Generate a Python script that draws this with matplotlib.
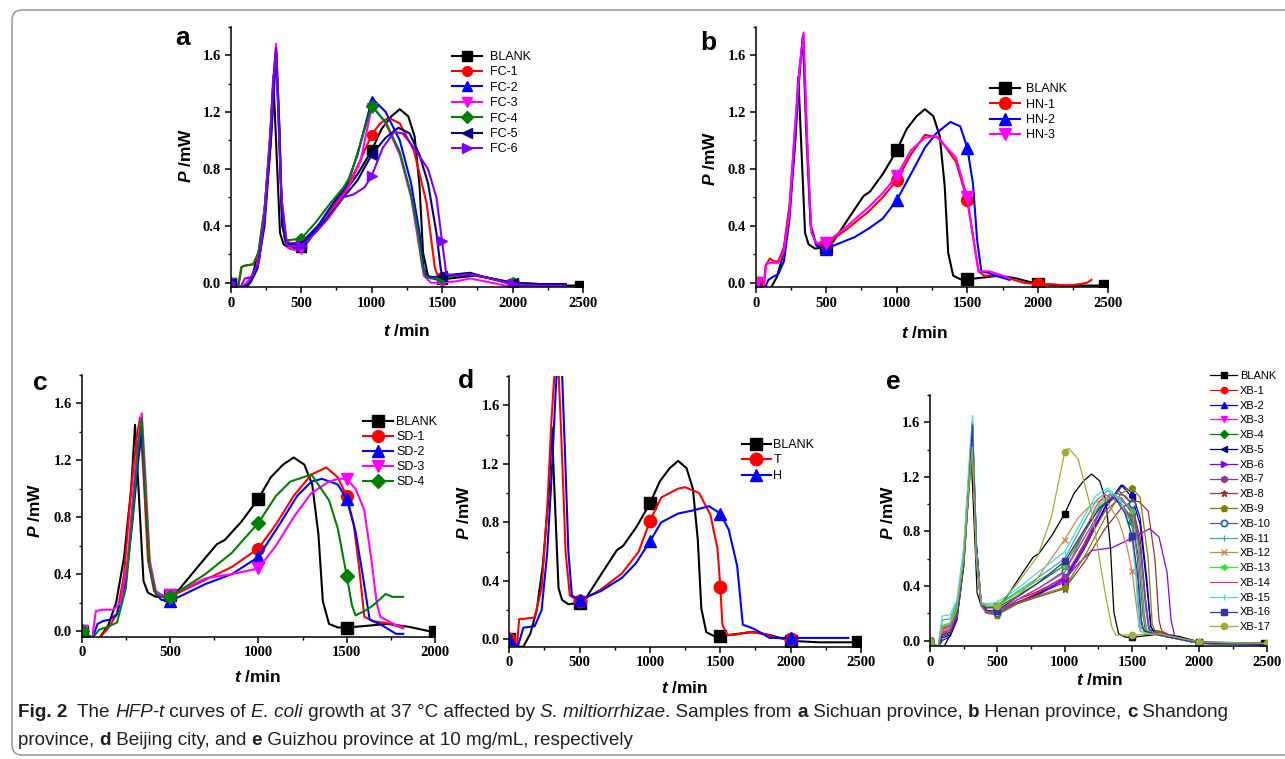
import matplotlib
matplotlib.use('Agg')
import matplotlib.pyplot as plt
from matplotlib.patches import FancyBboxPatch
from matplotlib.ticker import MultipleLocator, FormatStrFormatter
from matplotlib.transforms import IdentityTransform

W, H = 1285, 759
plt.rcParams['font.family'] = 'Liberation Serif'
plt.rcParams['font.weight'] = 'bold'
plt.rcParams['mathtext.fontset'] = 'custom'
plt.rcParams['mathtext.it'] = 'Liberation Sans:italic:bold'
plt.rcParams['mathtext.rm'] = 'Liberation Sans:bold'
plt.rcParams['mathtext.bf'] = 'Liberation Sans:bold'
SANS = 'Liberation Sans'

# control run, shown in every panel
blank_t = [0, 60, 100, 150, 195, 240, 280, 302, 326, 350, 375, 420, 500, 550, 670, 765, 810, 905, 1000, 1070,
           1140, 1200, 1260, 1305, 1340, 1365, 1400, 1450, 1500, 1600, 1730, 1850, 2000, 2200, 2480]
blank_p = [0.0, -0.05, -0.05, 0.04, 0.2, 0.52, 1.0, 1.45, 0.9, 0.35, 0.27, 0.24, 0.25, 0.29, 0.47, 0.61, 0.64, 0.77, 0.93, 1.08,
           1.17, 1.22, 1.17, 1.03, 0.68, 0.21, 0.05, 0.025, 0.024, 0.035, 0.05, 0.03, -0.01, -0.02, -0.02]

# a: Sichuan
fc1_t = [0, 50, 78, 100, 160, 200, 240, 280, 305, 320, 340, 360, 385, 420, 500, 600, 700, 820, 920, 1000, 1060, 1120,
         1200, 1300, 1390, 1448, 1472, 1500, 1600, 1700, 1800, 2000, 2200, 2377]
fc1_p = [0.0, -0.05, 0.11, 0.12, 0.13, 0.22, 0.5, 1.05, 1.45, 1.64, 1.2, 0.55, 0.3, 0.28, 0.28, 0.38, 0.5, 0.66, 0.86, 1.04, 1.12, 1.16,
         1.12, 0.93, 0.56, 0.11, 0.04, 0.04, 0.05, 0.06, 0.04, 0.0, -0.01, -0.01]
fc2_t = [0, 60, 120, 150, 200, 240, 285, 310, 325, 345, 365, 390, 420, 500, 620, 720, 820, 900, 1000, 1010, 1100, 1200,
         1280, 1340, 1370, 1400, 1500, 1600, 1700, 1800, 2000, 2200, 2377]
fc2_p = [0.0, -0.05, -0.03, 0.03, 0.15, 0.45, 1.0, 1.4, 1.62, 1.1, 0.45, 0.28, 0.27, 0.28, 0.4, 0.55, 0.68, 0.9, 1.28, 1.29, 1.2, 1.0,
         0.7, 0.35, 0.1, 0.04, 0.04, 0.05, 0.06, 0.04, -0.01, -0.01, -0.01]
fc3_t = [0, 60, 130, 180, 220, 285, 305, 322, 340, 360, 400, 450, 500, 620, 720, 820, 920, 1000, 1010, 1100, 1200,
         1280, 1330, 1370, 1420, 1500, 1600, 1700, 1800, 2000, 2200, 2377]
fc3_p = [0.0, -0.05, 0.02, 0.1, 0.3, 1.0, 1.45, 1.68, 1.2, 0.6, 0.25, 0.23, 0.24, 0.38, 0.5, 0.64, 0.85, 1.23, 1.24, 1.12, 0.9,
         0.6, 0.3, 0.05, 0.0, 0.0, 0.01, 0.03, 0.01, -0.03, -0.03, -0.03]
fc4_t = [0, 50, 75, 100, 160, 200, 240, 280, 305, 322, 345, 365, 385, 420, 500, 600, 700, 800, 850, 920, 1000, 1100,
         1200, 1280, 1330, 1360, 1385, 1420, 1500, 1600, 1700, 1800, 2000, 2200, 2377]
fc4_p = [0.0, -0.05, 0.11, 0.12, 0.13, 0.22, 0.5, 1.0, 1.42, 1.63, 1.1, 0.45, 0.3, 0.3, 0.31, 0.42, 0.55, 0.67, 0.75, 0.98, 1.24, 1.13,
         0.92, 0.62, 0.35, 0.12, 0.04, 0.03, 0.03, 0.05, 0.06, 0.04, 0.0, -0.01, -0.01]
fc5_t = [0, 60, 140, 190, 240, 285, 305, 322, 345, 365, 400, 500, 620, 720, 800, 900, 1000, 1100, 1190, 1270,
         1340, 1400, 1460, 1490, 1500, 1600, 1700, 1800, 2000, 2200, 2377]
fc5_p = [0.0, -0.05, 0.0, 0.1, 0.4, 1.0, 1.4, 1.62, 1.05, 0.4, 0.26, 0.27, 0.38, 0.5, 0.6, 0.72, 0.9, 1.02, 1.09, 1.05,
         0.9, 0.7, 0.35, 0.1, 0.05, 0.06, 0.07, 0.04, 0.0, -0.01, -0.01]
fc6_t = [0, 60, 100, 150, 200, 245, 285, 305, 322, 340, 360, 400, 500, 600, 690, 800, 870, 950, 1000, 1080, 1160,
         1220, 1300, 1400, 1460, 1500, 1530, 1600, 1700, 1800, 2000, 2200, 2377]
fc6_p = [0.0, -0.05, 0.03, 0.04, 0.15, 0.5, 1.1, 1.45, 1.65, 1.1, 0.6, 0.26, 0.26, 0.35, 0.45, 0.6, 0.62, 0.67, 0.75, 0.95, 1.06,
         1.05, 0.95, 0.8, 0.6, 0.29, 0.06, 0.05, 0.06, 0.04, -0.01, -0.02, -0.02]

# b: Henan
hn1_t = [0, 55, 70, 100, 130, 160, 200, 240, 280, 310, 335, 360, 390, 430, 500, 650, 800, 900, 1000, 1100, 1200,
         1300, 1420, 1500, 1545, 1580, 1620, 1700, 1800, 1900, 2000, 2100, 2200, 2300, 2350, 2380]
hn1_p = [0.0, -0.05, 0.12, 0.17, 0.15, 0.15, 0.25, 0.55, 1.1, 1.5, 1.73, 1.0, 0.4, 0.27, 0.27, 0.38, 0.5, 0.6, 0.72, 0.9, 1.04,
         1.02, 0.85, 0.58, 0.3, 0.08, 0.05, 0.05, 0.03, 0.0, -0.01, -0.01, -0.02, -0.01, 0.0, 0.02]
hn2_t = [0, 60, 90, 120, 160, 200, 240, 280, 310, 335, 360, 390, 430, 500, 600, 700, 800, 900, 1000, 1120, 1200,
         1280, 1380, 1450, 1500, 1540, 1570, 1600, 1650, 1700, 1800]
hn2_p = [0.0, -0.05, 0.02, 0.04, 0.06, 0.15, 0.45, 1.0, 1.45, 1.74, 1.1, 0.4, 0.26, 0.24, 0.28, 0.32, 0.38, 0.45, 0.58, 0.8, 0.95,
         1.05, 1.13, 1.1, 0.95, 0.7, 0.3, 0.08, 0.07, 0.05, 0.02]
hn3_t = [0, 55, 75, 100, 160, 200, 240, 280, 310, 340, 365, 395, 430, 500, 650, 800, 900, 1000, 1100, 1200, 1280,
         1420, 1500, 1545, 1580, 1620, 1660, 1750, 1800]
hn3_p = [0.0, -0.05, 0.13, 0.14, 0.14, 0.22, 0.5, 1.1, 1.5, 1.76, 1.0, 0.35, 0.28, 0.28, 0.4, 0.53, 0.63, 0.75, 0.93, 1.02, 1.03,
         0.88, 0.6, 0.3, 0.08, 0.08, 0.08, 0.05, 0.03]

# c: Shandong
sd1_t = [0, 60, 100, 150, 200, 240, 280, 310, 330, 350, 375, 410, 450, 500, 700, 850, 1000, 1100, 1200, 1300, 1385,
         1450, 1500, 1540, 1570, 1600, 1650, 1750, 1820]
sd1_p = [0.0, -0.05, -0.05, 0.02, 0.12, 0.4, 1.0, 1.35, 1.5, 1.1, 0.5, 0.28, 0.24, 0.24, 0.36, 0.45, 0.58, 0.75, 0.95, 1.1, 1.15,
         1.08, 0.95, 0.75, 0.45, 0.1, 0.07, 0.05, 0.02]
sd2_t = [0, 60, 90, 120, 160, 200, 250, 290, 320, 340, 360, 385, 420, 450, 500, 700, 850, 1000, 1120, 1220, 1300,
         1360, 1450, 1500, 1550, 1590, 1630, 1700, 1780, 1820]
sd2_p = [0.0, -0.05, 0.05, 0.07, 0.08, 0.12, 0.35, 0.8, 1.2, 1.4, 1.0, 0.45, 0.26, 0.22, 0.21, 0.33, 0.4, 0.52, 0.75, 0.95, 1.05,
         1.07, 1.03, 0.93, 0.7, 0.4, 0.08, 0.04, -0.02, -0.02]
sd3_t = [0, 60, 80, 120, 180, 220, 260, 300, 325, 340, 360, 385, 420, 460, 500, 700, 850, 1000, 1100, 1200, 1300,
         1400, 1450, 1500, 1550, 1600, 1640, 1670, 1690, 1720, 1800, 1820]
sd3_p = [0.0, -0.05, 0.14, 0.15, 0.15, 0.2, 0.5, 1.1, 1.4, 1.53, 1.1, 0.5, 0.28, 0.25, 0.25, 0.37, 0.4, 0.44, 0.6, 0.8, 0.97,
         1.05, 1.07, 1.07, 1.0, 0.85, 0.5, 0.2, 0.1, 0.08, 0.03, 0.03]
sd4_t = [0, 60, 100, 150, 200, 250, 290, 320, 340, 360, 385, 420, 460, 500, 700, 850, 1000, 1100, 1180, 1300,
         1400, 1450, 1500, 1530, 1550, 1600, 1650, 1720, 1760, 1820]
sd4_p = [0.0, -0.05, 0.01, 0.03, 0.06, 0.3, 0.85, 1.3, 1.49, 1.0, 0.45, 0.26, 0.24, 0.24, 0.4, 0.55, 0.76, 0.95, 1.05, 1.1,
         0.92, 0.72, 0.39, 0.18, 0.11, 0.14, 0.18, 0.26, 0.24, 0.24]

# d: Beijing
t_t = [0, 55, 70, 100, 180, 230, 270, 300, 330, 345, 365, 385, 400, 430, 500, 650, 800, 920, 1000, 1080, 1200,
       1250, 1350, 1430, 1480, 1500, 1515, 1550, 1600, 1700, 1800, 1900, 2000]
t_p = [0.0, -0.05, 0.14, 0.14, 0.15, 0.35, 0.9, 1.5, 1.95, 1.95, 1.5, 1.0, 0.6, 0.3, 0.26, 0.34, 0.45, 0.6, 0.81, 0.97, 1.03,
       1.04, 1.0, 0.85, 0.62, 0.36, 0.1, 0.03, 0.03, 0.05, 0.04, 0.01, 0.0]
h_t = [0, 60, 100, 180, 230, 270, 300, 330, 345, 370, 395, 420, 445, 500, 650, 800, 900, 1000, 1080, 1200, 1300,
       1420, 1500, 1560, 1620, 1660, 1720, 1780, 1850, 2000, 2200, 2410]
h_p = [0.0, -0.05, 0.08, 0.09, 0.2, 0.6, 1.1, 1.7, 1.95, 1.95, 1.3, 0.6, 0.3, 0.27, 0.33, 0.42, 0.52, 0.67, 0.8, 0.86, 0.88,
       0.91, 0.86, 0.75, 0.5, 0.1, 0.08, 0.05, 0.01, 0.01, 0.01, 0.01]

# e: Guizhou, 17 batches
xb_t = [
    [0, 60, 90, 150, 200, 250, 290, 315, 345, 380, 420, 500, 650, 800, 1000, 1150, 1280, 1380, 1450, 1500, 1560, 1600, 1625, 1700, 1800, 2000, 2500],
    [0, 60, 90, 150, 200, 250, 290, 315, 345, 380, 420, 500, 650, 800, 1000, 1150, 1300, 1430, 1500, 1560, 1610, 1640, 1660, 1750, 2000, 2500],
    [0, 60, 90, 150, 200, 250, 290, 315, 345, 380, 420, 500, 650, 800, 1000, 1150, 1250, 1330, 1420, 1500, 1550, 1590, 1610, 1700, 2000, 2500],
    [0, 60, 90, 150, 200, 250, 290, 315, 345, 380, 420, 500, 650, 800, 1000, 1150, 1260, 1360, 1440, 1500, 1550, 1580, 1600, 1700, 2000, 2500],
    [0, 60, 90, 150, 200, 250, 290, 315, 345, 380, 420, 500, 650, 800, 1000, 1150, 1300, 1420, 1500, 1560, 1610, 1640, 1660, 1750, 2000, 2500],
    [0, 60, 90, 150, 200, 250, 290, 315, 345, 380, 420, 500, 650, 800, 1000, 1100, 1200, 1350, 1500, 1630, 1700, 1760, 1790, 1820, 1900, 2000, 2500],
    [0, 60, 90, 150, 200, 250, 290, 315, 345, 380, 420, 500, 650, 800, 1000, 1150, 1300, 1420, 1500, 1560, 1600, 1630, 1650, 1750, 2000, 2500],
    [0, 60, 90, 150, 200, 250, 290, 315, 345, 380, 420, 500, 650, 800, 1000, 1150, 1300, 1420, 1500, 1550, 1620, 1670, 1700, 1720, 1800, 2000, 2500],
    [0, 60, 90, 150, 200, 250, 290, 315, 345, 380, 420, 500, 650, 800, 1000, 1150, 1300, 1420, 1500, 1560, 1620, 1650, 1670, 1750, 2000, 2500],
    [0, 60, 90, 150, 200, 250, 290, 315, 345, 380, 420, 500, 650, 800, 1000, 1150, 1280, 1400, 1500, 1560, 1600, 1625, 1650, 1750, 2000, 2500],
    [0, 60, 90, 150, 200, 250, 290, 315, 345, 380, 420, 500, 650, 800, 1000, 1150, 1230, 1320, 1420, 1500, 1530, 1560, 1600, 1700, 2000, 2500],
    [0, 60, 90, 150, 200, 250, 290, 315, 345, 380, 420, 500, 650, 800, 1000, 1100, 1200, 1300, 1400, 1460, 1500, 1540, 1560, 1600, 1700, 2000, 2500],
    [0, 60, 90, 150, 200, 250, 290, 315, 345, 380, 420, 500, 650, 800, 1000, 1150, 1260, 1360, 1440, 1500, 1550, 1590, 1610, 1700, 2000, 2500],
    [0, 60, 90, 150, 200, 250, 290, 315, 345, 380, 420, 500, 650, 800, 1000, 1150, 1230, 1300, 1420, 1500, 1540, 1570, 1590, 1700, 2000, 2500],
    [0, 60, 90, 150, 200, 250, 290, 317, 345, 380, 420, 500, 650, 800, 1000, 1150, 1230, 1320, 1420, 1500, 1530, 1550, 1580, 1700, 2000, 2500],
    [0, 60, 90, 150, 200, 250, 290, 315, 345, 380, 420, 500, 650, 800, 1000, 1150, 1270, 1370, 1450, 1500, 1540, 1570, 1590, 1700, 2000, 2500],
    [0, 60, 90, 150, 200, 250, 290, 315, 345, 380, 420, 500, 650, 800, 900, 1000, 1030, 1100, 1200, 1300, 1350, 1380, 1500, 1700, 2000, 2500],
]
xb_p = [
    [0, -0.05, 0.05, 0.07, 0.2, 0.6, 1.2, 1.58, 0.6, 0.26, 0.22, 0.22, 0.3, 0.36, 0.46, 0.72, 0.98, 1.08, 1.06, 1.0, 0.75, 0.3, 0.08, 0.07, 0.02, -0.02, -0.03],
    [0, -0.05, 0.0, 0.03, 0.15, 0.55, 1.15, 1.6, 0.7, 0.28, 0.22, 0.21, 0.28, 0.34, 0.43, 0.68, 0.97, 1.14, 1.08, 0.9, 0.45, 0.1, 0.07, 0.04, -0.02, -0.03],
    [0, -0.05, 0.08, 0.1, 0.22, 0.6, 1.2, 1.55, 0.6, 0.26, 0.2, 0.2, 0.28, 0.35, 0.43, 0.7, 0.92, 1.07, 1.03, 0.95, 0.7, 0.2, 0.07, 0.04, -0.02, -0.03],
    [0, -0.05, 0.1, 0.12, 0.25, 0.62, 1.2, 1.52, 0.6, 0.27, 0.24, 0.24, 0.33, 0.42, 0.55, 0.8, 0.98, 1.06, 0.98, 0.87, 0.6, 0.2, 0.07, 0.04, -0.02, -0.03],
    [0, -0.05, 0.02, 0.04, 0.16, 0.55, 1.15, 1.58, 0.7, 0.28, 0.22, 0.21, 0.28, 0.34, 0.45, 0.7, 0.98, 1.14, 1.05, 0.85, 0.4, 0.1, 0.07, 0.04, -0.01, -0.02],
    [0, -0.05, 0.04, 0.06, 0.18, 0.58, 1.18, 1.55, 0.65, 0.27, 0.22, 0.21, 0.28, 0.33, 0.45, 0.56, 0.66, 0.68, 0.75, 0.82, 0.76, 0.5, 0.15, 0.02, 0.0, -0.02, -0.03],
    [0, -0.05, 0.06, 0.08, 0.2, 0.58, 1.18, 1.5, 0.62, 0.26, 0.21, 0.2, 0.28, 0.35, 0.47, 0.7, 0.95, 1.05, 0.93, 0.7, 0.3, 0.08, 0.06, 0.04, -0.02, -0.03],
    [0, -0.05, 0.03, 0.05, 0.17, 0.55, 1.12, 1.5, 0.62, 0.26, 0.2, 0.19, 0.27, 0.32, 0.38, 0.58, 0.82, 0.97, 1.02, 1.02, 0.95, 0.6, 0.15, 0.07, 0.03, -0.02, -0.03],
    [0, -0.05, 0.05, 0.07, 0.18, 0.55, 1.1, 1.42, 0.6, 0.26, 0.2, 0.19, 0.27, 0.33, 0.39, 0.62, 0.9, 1.08, 1.12, 1.05, 0.6, 0.12, 0.07, 0.04, -0.02, -0.03],
    [0, -0.05, 0.09, 0.11, 0.23, 0.62, 1.2, 1.6, 0.65, 0.27, 0.21, 0.2, 0.3, 0.38, 0.51, 0.76, 0.98, 1.1, 1.0, 0.7, 0.25, 0.08, 0.06, 0.04, -0.02, -0.03],
    [0, -0.05, 0.15, 0.16, 0.28, 0.65, 1.25, 1.6, 0.62, 0.28, 0.26, 0.26, 0.36, 0.46, 0.6, 0.88, 1.02, 1.1, 1.0, 0.85, 0.5, 0.1, 0.07, 0.04, -0.02, -0.03],
    [0, -0.05, 0.07, 0.09, 0.2, 0.58, 1.15, 1.5, 0.6, 0.26, 0.22, 0.22, 0.33, 0.46, 0.74, 0.9, 1.0, 1.04, 0.88, 0.7, 0.51, 0.2, 0.07, 0.05, 0.04, -0.02, -0.03],
    [0, -0.05, 0.11, 0.13, 0.26, 0.63, 1.22, 1.55, 0.62, 0.27, 0.25, 0.25, 0.35, 0.44, 0.55, 0.82, 1.0, 1.08, 1.02, 0.95, 0.65, 0.15, 0.07, 0.04, -0.02, -0.03],
    [0, -0.05, 0.06, 0.08, 0.2, 0.58, 1.16, 1.5, 0.6, 0.25, 0.21, 0.21, 0.3, 0.38, 0.5, 0.8, 0.98, 1.07, 1.0, 0.9, 0.6, 0.15, 0.07, 0.04, -0.02, -0.03],
    [0, -0.05, 0.18, 0.19, 0.3, 0.68, 1.3, 1.65, 0.65, 0.28, 0.27, 0.28, 0.38, 0.5, 0.65, 0.92, 1.06, 1.12, 1.02, 0.75, 0.45, 0.1, 0.06, 0.04, -0.02, -0.03],
    [0, -0.05, 0.04, 0.06, 0.18, 0.56, 1.15, 1.58, 0.62, 0.27, 0.22, 0.22, 0.32, 0.42, 0.58, 0.82, 0.98, 1.05, 0.93, 0.77, 0.5, 0.12, 0.07, 0.04, -0.02, -0.03],
    [0, -0.05, 0.1, 0.12, 0.23, 0.6, 1.15, 1.42, 0.58, 0.27, 0.25, 0.25, 0.42, 0.62, 0.9, 1.38, 1.41, 1.33, 0.95, 0.35, 0.1, 0.04, 0.04, 0.05, -0.01, -0.02],
]
xb_names = ['XB-%d' % i for i in range(1, 18)]
xb_colors = ['#FF0000', '#0000FF', '#FF00FF', '#008000', '#000080', '#8000FF', '#993399', '#993333', '#808000',
             '#3366B2', '#40A8A8', '#CC8844', '#33DD33', '#DD3399', '#44DDDD', '#3333AA', '#99B030']
xb_markers = ['o', '^', 'v', 'D', '<', '>', 'h', '*', 'p', 'o', '|', 'x', (6, 2, 0), '', '|', 's', 'o']

fig = plt.figure(figsize=(W / 100, H / 100), dpi=100)


def px_axes(x0, x1, y0, y1):
    # box given in pixels from the top-left corner
    return fig.add_axes([x0 / W, 1 - y1 / H, (x1 - x0) / W, (y1 - y0) / H])


def style(ax, xmax, ymin):
    ax.set_xlim(0, xmax)
    ax.set_ylim(ymin, 1.8)
    for s in ('top', 'right'):
        ax.spines[s].set_visible(False)
    for s in ('left', 'bottom'):
        ax.spines[s].set_linewidth(1.1)
    ax.xaxis.set_major_locator(MultipleLocator(500))
    ax.xaxis.set_minor_locator(MultipleLocator(250))
    ax.yaxis.set_major_locator(MultipleLocator(0.4))
    ax.yaxis.set_minor_locator(MultipleLocator(0.2))
    ax.yaxis.set_major_formatter(FormatStrFormatter('%.1f'))
    ax.tick_params(which='major', direction='out', length=4, width=1.1, labelsize=10.5, pad=3)
    ax.tick_params(which='minor', direction='out', length=2.5, width=1)


def draw(ax, t, p, color, marker, ms, lw, label, end_mark=False, **kw):
    every = [i for i, v in enumerate(t) if v % 500 == 0]
    if end_mark:
        every.append(len(t) - 1)
    ax.plot(t, p, color=color, lw=lw, marker=marker, ms=ms, markevery=every, label=label, **kw)


def legend_at(ax, x, y, fs, hl, pad, spacing):
    ax.legend(loc='upper left', bbox_to_anchor=(x / W, 1 - y / H), bbox_transform=fig.transFigure,
              frameon=False, prop={'family': SANS, 'size': fs, 'weight': 'normal'}, handlelength=hl,
              handletextpad=pad, labelspacing=spacing, borderpad=0, borderaxespad=0, numpoints=1)


def labels(letter, lx, ly, yx, yy, tx, ty):
    fig.text(lx / W, 1 - ly / H, letter, family=SANS, weight='bold', fontsize=19, ha='center', va='center')
    fig.text(yx / W, 1 - yy / H, r'$P$ /mW', family=SANS, weight='bold', fontsize=12.5,
             rotation=90, ha='center', va='center')
    fig.text(tx / W, 1 - ty / H, r'$t$ /min', family=SANS, weight='bold', fontsize=12.5, ha='center', va='center')


LW = 1.5

# panel a
ax = px_axes(230.7, 583, 26.7, 287)
style(ax, 2500, -0.03)
draw(ax, blank_t, blank_p, 'black', 's', 6.5, LW, 'BLANK', end_mark=True)
draw(ax, fc1_t, fc1_p, '#FF0000', 'o', 7, LW, 'FC-1')
draw(ax, fc2_t, fc2_p, '#0000FF', '^', 7, LW, 'FC-2')
draw(ax, fc3_t, fc3_p, '#FF00FF', 'v', 7, LW, 'FC-3')
draw(ax, fc4_t, fc4_p, '#008000', 'D', 6, LW, 'FC-4')
draw(ax, fc5_t, fc5_p, '#000080', '<', 7, LW, 'FC-5')
draw(ax, fc6_t, fc6_p, '#8000FF', '>', 7, LW, 'FC-6')
legend_at(ax, 452, 51, 9, 2.4, 0.6, 0.27)
labels('a', 183, 38, 186, 155, 407, 331)

# panel b
ax = px_axes(755.7, 1108.3, 26.7, 287)
style(ax, 2500, -0.03)
draw(ax, blank_t, blank_p, 'black', 's', 8, LW, 'BLANK', end_mark=True)
draw(ax, hn1_t, hn1_p, '#FF0000', 'o', 8.5, LW, 'HN-1')
draw(ax, hn2_t, hn2_p, '#0000FF', '^', 8.5, LW, 'HN-2')
draw(ax, hn3_t, hn3_p, '#FF00FF', 'v', 8.5, LW, 'HN-3')
legend_at(ax, 990, 83, 9, 2.4, 0.45, 0.28)
labels('b', 708, 43, 710, 158, 925, 333)

# panel c
ax = px_axes(81.7, 435, 375, 636.7)
style(ax, 2000, -0.04)
draw(ax, blank_t, blank_p, 'black', 's', 8, LW, 'BLANK', end_mark=True)
draw(ax, sd1_t, sd1_p, '#FF0000', 'o', 8.5, LW, 'SD-1')
draw(ax, sd2_t, sd2_p, '#0000FF', '^', 8.5, LW, 'SD-2')
draw(ax, sd3_t, sd3_p, '#FF00FF', 'v', 8.5, LW, 'SD-3')
draw(ax, sd4_t, sd4_p, '#008000', 'D', 7.5, LW, 'SD-4')
legend_at(ax, 363, 416, 9, 2.4, 0.25, 0.24)
labels('c', 40, 383, 35, 510, 258, 677)

# panel d
ax = px_axes(509.3, 861, 376, 646.7)
style(ax, 2500, -0.05)
draw(ax, blank_t, blank_p, 'black', 's', 8.5, LW, 'BLANK', end_mark=True)
draw(ax, t_t, t_p, '#FF0000', 'o', 9, LW, 'T')
draw(ax, h_t, h_p, '#0000FF', '^', 9, LW, 'H')
legend_at(ax, 742, 439, 9, 2.3, 0.2, 0.28)
labels('d', 466, 381, 464, 512, 685, 688)

# panel e
ax = px_axes(930, 1266.7, 395, 646)
style(ax, 2500, -0.04)
draw(ax, blank_t, blank_p, 'black', 's', 4.5, 0.9, 'BLANK', end_mark=True)
for t, p, c, m, n in zip(xb_t, xb_p, xb_colors, xb_markers, xb_names):
    extra = {'mfc': 'white', 'mew': 1.3} if n == 'XB-10' else {}
    draw(ax, t, p, c, m, 4.5, 0.9, n, **extra)
legend_at(ax, 1210, 371, 8, 2.45, 0.25, 0.43)
labels('e', 893, 382, 888, 512, 1100, 680)

# rounded frame around the figure
fig.add_artist(FancyBboxPatch((12, 4), 1300, 745, boxstyle='round,pad=0,rounding_size=10',
                              transform=IdentityTransform(), fill=False, ec='#8c8c8c', lw=1))

# caption, set piece by piece so bold and italic runs can be mixed
CAP_FONT = ['Liberation Sans Narrow', 'Liberation Sans']
caption_1 = [('Fig. 2', 'b'), ('  The ', ''), ('HFP-t', 'i'), (' curves of ', ''), ('E. coli', 'i'),
             (' growth at 37 °C affected by ', ''), ('S. miltiorrhizae', 'i'), ('. Samples from ', ''),
             ('a', 'b'), (' Sichuan province, ', ''), ('b', 'b'), (' Henan province, ', ''), ('c', 'b'),
             (' Shandong', '')]
caption_2 = [('province, ', ''), ('d', 'b'), (' Beijing city, and ', ''), ('e', 'b'),
             (' Guizhou province at 10 mg/mL, respectively', '')]

renderer = fig.canvas.get_renderer()


def cap_props(st, size):
    return dict(fontsize=size, family=CAP_FONT, fontweight='bold' if st == 'b' else 'normal',
                fontstyle='italic' if st == 'i' else 'normal', color='#231f20')


def run_width(s, st, size):
    tmp = fig.text(0, 0, s + 'X', transform=IdentityTransform(), **cap_props(st, size))
    w1 = tmp.get_window_extent(renderer).width
    tmp.set_text('X')
    w2 = tmp.get_window_extent(renderer).width
    tmp.remove()
    return w1 - w2


def put_line(parts, x, y, size):
    for s, st in parts:
        fig.text(x, y, s, transform=IdentityTransform(), va='baseline', **cap_props(st, size))
        x += run_width(s, st, size)


full = sum(run_width(s, st, 10) for s, st in caption_1)
cap_size = 10 * (1232 - 18) / full
put_line(caption_1, 18, 42, cap_size)
put_line(caption_2, 18, 14, cap_size)

fig.savefig('out.png', dpi=100)
